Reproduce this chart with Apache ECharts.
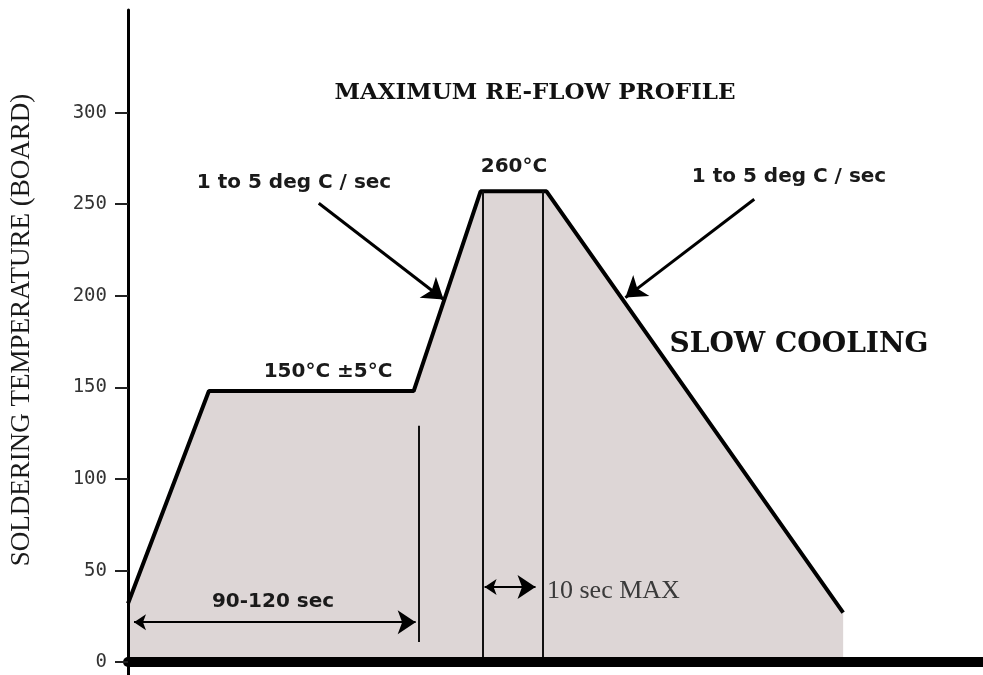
<!DOCTYPE html>
<html>
<head>
<meta charset="utf-8">
<title>Maximum re-flow profile</title>
<script src="https://cdn.jsdelivr.net/npm/echarts@6.0.0/dist/echarts.min.js"></script>
<style>
  html, body { margin: 0; padding: 0; background: #fff; }
  #chart { width: 983px; height: 675px; }
</style>
</head>
<body>
<div id="chart"></div>
<script>
// profile (time in arbitrary seconds, temperature in deg C)
const profileTime = [0, 40.5, 143, 176.5, 209.5, 358];
const profileTemp = [32, 148, 148, 257, 257, 27];
const yTicks = [0, 50, 100, 150, 200, 250, 300];

// vertical guide lines: [time, fromTemp, toTemp]
const guideLines = [
  [145.5, 129, 11],
  [177.5, 257, 0],
  [207.5, 257, 0]
];
// double-headed dimension arrows: [[t1, temp1], [t2, temp2]]
const dimArrows = [
  [[3, 21.8], [144, 21.8]],
  [[178.5, 41], [204, 41]]
];
// pointer arrows from labels to the slopes
const pointerArrows = [
  [[95.5, 250.5], [158, 198]],
  [[313.5, 252.7], [249, 199]]
];

const chart = echarts.init(document.getElementById("chart"));

const sansBold = (text, x, y) => ({
  type: "text",
  z: 100,
  style: {
    text: text, x: x, y: y,
    align: "center", verticalAlign: "middle",
    fontFamily: "DejaVu Sans", fontWeight: "bold", fontSize: 20,
    fill: "#1a1a1a"
  }
});

chart.setOption({
  animation: false,
  grid: { left: 127, right: 0, top: 10, bottom: 0 },
  xAxis: {
    type: "value",
    min: 0,
    max: 428,
    z: 5,
    axisLine: { show: true, onZero: true, lineStyle: { color: "#000", width: 10 } },
    axisTick: { show: false },
    axisLabel: { show: false },
    splitLine: { show: false }
  },
  yAxis: {
    type: "value",
    min: -7,
    max: 356,
    z: 5,
    name: "SOLDERING TEMPERATURE (BOARD)",
    nameLocation: "middle",
    nameRotate: 90,
    nameGap: 93,
    nameTextStyle: {
      fontFamily: "Liberation Serif",
      fontSize: 27,
      color: "#1a1a1a",
      padding: [0, 0, 0, 25]
    },
    axisLine: { show: true, lineStyle: { color: "#000", width: 3 } },
    axisTick: {
      show: true, length: 13, customValues: yTicks,
      lineStyle: { color: "#222", width: 2 }
    },
    axisLabel: {
      customValues: yTicks, margin: 21,
      fontFamily: "DejaVu Sans Mono", fontSize: 19, color: "#333"
    },
    splitLine: { show: false }
  },
  graphic: [
    {
      type: "text",
      z: 100,
      style: {
        text: "MAXIMUM RE-FLOW PROFILE", x: 535, y: 93,
        align: "center", verticalAlign: "middle",
        fontFamily: "DejaVu Serif", fontWeight: "bold", fontSize: 23, fill: "#111"
      }
    },
    sansBold("1 to 5 deg C / sec", 294, 183),
    sansBold("260°C", 514, 167),
    sansBold("1 to 5 deg C / sec", 789, 177),
    sansBold("150°C ±5°C", 328, 372),
    sansBold("90-120 sec", 273, 602),
    {
      type: "text",
      z: 100,
      style: {
        text: "SLOW COOLING", x: 799, y: 345,
        align: "center", verticalAlign: "middle",
        fontFamily: "DejaVu Serif", fontWeight: "bold", fontSize: 28, fill: "#111"
      }
    },
    {
      type: "text",
      z: 100,
      style: {
        text: "10 sec MAX", x: 547, y: 591,
        align: "left", verticalAlign: "middle",
        fontFamily: "Liberation Serif", fontSize: 26, fill: "#3a3a3a"
      }
    }
  ],
  series: [
    {
      type: "line",
      data: profileTime.map((t, i) => [t, profileTemp[i]]),
      symbol: "none",
      z: 2,
      lineStyle: { color: "#000", width: 4 },
      areaStyle: { color: "#ddd6d6", opacity: 1 }
    },
    {
      type: "lines",
      coordinateSystem: "cartesian2d",
      z: 3,
      symbol: "none",
      lineStyle: { color: "#111", width: 2, opacity: 1 },
      data: guideLines.map(g => ({ coords: [[g[0], g[1]], [g[0], g[2]]] }))
    },
    {
      type: "lines",
      coordinateSystem: "cartesian2d",
      z: 4,
      symbol: ["arrow", "arrow"],
      symbolSize: [12, 18],
      lineStyle: { color: "#000", width: 2, opacity: 1 },
      data: dimArrows.map(a => ({ coords: a }))
    },
    {
      type: "lines",
      coordinateSystem: "cartesian2d",
      z: 4,
      symbol: ["none", "arrow"],
      symbolSize: [12, 20],
      lineStyle: { color: "#000", width: 3, opacity: 1 },
      data: pointerArrows.map(a => ({ coords: a }))
    }
  ]
});
</script>
</body>
</html>
